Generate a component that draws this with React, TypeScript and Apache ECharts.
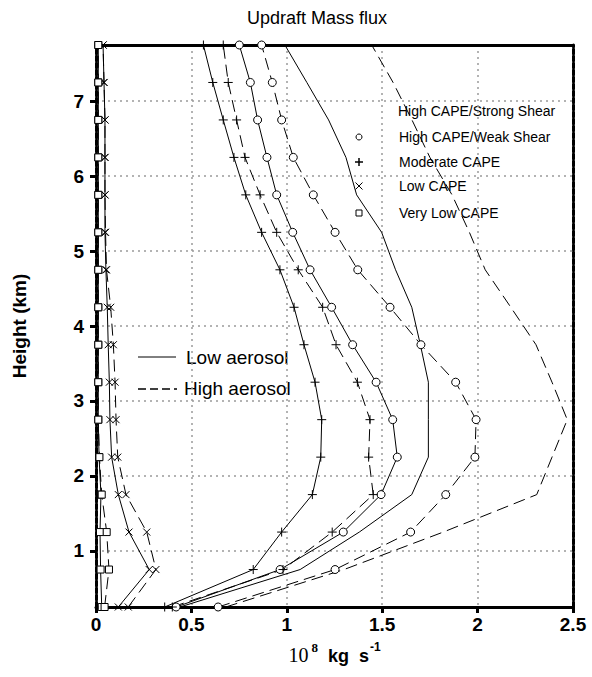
import React, { useEffect, useRef } from "react";
import * as echarts from "echarts";

// Heights (km) of the model levels, bottom to top
const heights = [0.25, 0.75, 1.25, 1.75, 2.25, 2.75, 3.25, 3.75, 4.25, 4.75, 5.25, 5.75, 6.25, 6.75, 7.25, 7.75];
const yTickValues = [1, 2, 3, 4, 5, 6, 7];

// Updraft mass flux (10^8 kg s^-1), values at each height above
// High CAPE / Strong Shear
const hcssLow = [0.44, 1.07, 1.38, 1.655, 1.742, 1.742, 1.742, 1.70, 1.655, 1.57, 1.497, 1.366, 1.31, 1.219, 1.105, 0.99];
const hcssHigh = [0.68, 1.30, 1.82, 2.31, 2.39, 2.47, 2.39, 2.306, 2.174, 2.04, 1.957, 1.866, 1.75, 1.656, 1.557, 1.445];
// High CAPE / Weak Shear
const hcwsLow = [0.42, 0.965, 1.296, 1.494, 1.579, 1.555, 1.468, 1.345, 1.235, 1.122, 1.031, 0.947, 0.896, 0.847, 0.809, 0.751];
const hcwsHigh = [0.64, 1.253, 1.649, 1.833, 1.986, 1.992, 1.885, 1.703, 1.541, 1.372, 1.253, 1.139, 1.034, 0.973, 0.924, 0.868];
// Moderate CAPE
const modLow = [0.36, 0.824, 0.973, 1.134, 1.178, 1.183, 1.148, 1.09, 1.038, 0.964, 0.868, 0.785, 0.723, 0.667, 0.612, 0.563];
const modHigh = [0.40, 0.98, 1.238, 1.453, 1.429, 1.436, 1.37, 1.258, 1.188, 1.06, 0.947, 0.86, 0.781, 0.737, 0.693, 0.667];
// Low CAPE
const lowLow = [0.117, 0.279, 0.173, 0.117, 0.082, 0.073, 0.07, 0.064, 0.059, 0.052, 0.047, 0.047, 0.047, 0.047, 0.042, 0.037];
const lowHigh = [0.169, 0.314, 0.266, 0.157, 0.114, 0.105, 0.10, 0.091, 0.077, 0.055, 0.05, 0.047, 0.047, 0.047, 0.042, 0.037];
// Very Low CAPE
const vlowLow = [0.03, 0.024, 0.021, 0.026, 0.016, 0.012, 0.012, 0.012, 0.012, 0.012, 0.012, 0.012, 0.012, 0.012, 0.012, 0.012];
const vlowHigh = [0.045, 0.068, 0.056, 0.03, 0.018, 0.012, 0.012, 0.012, 0.012, 0.012, 0.012, 0.012, 0.012, 0.012, 0.012, 0.012];

const regimeNames = ["High CAPE/Strong Shear", "High CAPE/Weak Shear", "Moderate CAPE", "Low CAPE", "Very Low CAPE"];
const aerosolNames = ["Low aerosol", "High aerosol"];

const PLUS = "path://M0,5L10,5M5,0L5,10";
const CROSS = "path://M0,0L10,10M10,0L0,10";

const SANS = '"Liberation Sans", Arial, sans-serif';
const SERIF = '"Liberation Serif", "Times New Roman", serif';

const regimes = [
  { name: regimeNames[0], low: hcssLow, high: hcssHigh, symbol: "none", size: 0 },
  { name: regimeNames[1], low: hcwsLow, high: hcwsHigh, symbol: "circle", size: 8 },
  { name: regimeNames[2], low: modLow, high: modHigh, symbol: PLUS, size: 9 },
  { name: regimeNames[3], low: lowLow, high: lowHigh, symbol: CROSS, size: 7 },
  { name: regimeNames[4], low: vlowLow, high: vlowHigh, symbol: "rect", size: 7 },
];

export default function App() {
  const ref = useRef<HTMLDivElement>(null);

  useEffect(() => {
    if (!ref.current) return;
    const chart = echarts.init(ref.current, null, { renderer: "svg" });

    const series: any[] = [];
    regimes.forEach((r) => {
      [r.low, r.high].forEach((vals, k) => {
        series.push({
          type: "line",
          name: `${r.name} - ${aerosolNames[k]}`,
          data: heights.map((h, i) => [vals[i], h]),
          symbol: r.symbol,
          symbolSize: r.size,
          showSymbol: r.symbol !== "none",
          clip: false,
          lineStyle: { color: "#000", width: 1, type: k === 0 ? "solid" : [12, 6] },
          itemStyle: { color: "#fff", borderColor: "#000", borderWidth: 1 },
          emphasis: { disabled: true },
          z: 3,
        });
      });
    });

    const legendX = 359;
    const legendTextX = 399;
    const legendYs = [111, 137, 162, 186, 213];

    const graphic: any[] = [
      // aerosol line-style legend
      { type: "line", shape: { x1: 138, y1: 357, x2: 176, y2: 357 }, style: { stroke: "#000", lineWidth: 1 } },
      { type: "text", x: 186, y: 357, style: { text: aerosolNames[0], fontSize: 19, fontFamily: SANS, fill: "#000", verticalAlign: "middle", align: "left" } },
      { type: "line", shape: { x1: 138, y1: 389, x2: 177, y2: 389 }, style: { stroke: "#000", lineWidth: 1.5, lineDash: [8, 4] } },
      { type: "text", x: 184, y: 388, style: { text: aerosolNames[1], fontSize: 19, fontFamily: SANS, fill: "#000", verticalAlign: "middle", align: "left" } },
      // regime marker legend
      { type: "circle", shape: { cx: legendX, cy: legendYs[1], r: 3 }, style: { fill: "#fff", stroke: "#000", lineWidth: 1 } },
      { type: "line", shape: { x1: legendX - 4, y1: legendYs[2], x2: legendX + 4, y2: legendYs[2] }, style: { stroke: "#000", lineWidth: 1.5 } },
      { type: "line", shape: { x1: legendX, y1: legendYs[2] - 4, x2: legendX, y2: legendYs[2] + 4 }, style: { stroke: "#000", lineWidth: 1.5 } },
      { type: "line", shape: { x1: legendX - 3.5, y1: legendYs[3] - 3.5, x2: legendX + 3.5, y2: legendYs[3] + 3.5 }, style: { stroke: "#000", lineWidth: 1 } },
      { type: "line", shape: { x1: legendX + 3.5, y1: legendYs[3] - 3.5, x2: legendX - 3.5, y2: legendYs[3] + 3.5 }, style: { stroke: "#000", lineWidth: 1 } },
      { type: "rect", shape: { x: legendX - 3, y: legendYs[4] - 3, width: 6, height: 6 }, style: { fill: "#fff", stroke: "#000", lineWidth: 1 } },
    ];
    regimeNames.forEach((n, i) => {
      graphic.push({
        type: "text",
        x: i === 0 ? legendTextX - 1 : legendTextX,
        y: legendYs[i],
        style: { text: n, fontSize: 14, fontFamily: SANS, fill: "#000", verticalAlign: "middle", align: "left" },
      });
    });

    const gridLine = { show: true, lineStyle: { color: "#9a9a9a", width: 1.5, type: [2, 4] } };

    chart.setOption({
      animation: false,
      backgroundColor: "#fff",
      title: {
        text: "Updraft Mass flux",
        left: 242,
        top: 4,
        textStyle: { fontSize: 18, fontWeight: "normal", fontFamily: SANS, color: "#000" },
      },
      grid: { left: 96, right: 19, top: 45, bottom: 70, containLabel: false },
      xAxis: [
        {
          type: "value",
          min: 0,
          max: 2.5,
          interval: 0.5,
          position: "bottom",
          axisLine: { show: true, onZero: false, lineStyle: { color: "#000", width: 3 } },
          axisTick: { show: true, inside: false, length: 6, lineStyle: { color: "#000", width: 3 } },
          axisLabel: { fontSize: 19, fontWeight: "bold", fontFamily: SANS, color: "#000", margin: 8 },
          splitLine: gridLine,
          name: "{a|10}{sup|8}{b| kg  s}{sup2|-1}",
          nameLocation: "middle",
          nameGap: 34,
          nameTextStyle: {
            rich: {
              a: { fontSize: 20, fontFamily: SERIF, color: "#000", verticalAlign: "bottom", lineHeight: 24 },
              sup: { fontSize: 13, fontFamily: SERIF, fontWeight: "bold", color: "#000", verticalAlign: "top", padding: [0, 5, 8, 3], lineHeight: 24 },
              b: { fontSize: 18, fontFamily: SANS, fontWeight: "bold", color: "#000", verticalAlign: "bottom", lineHeight: 24 },
              sup2: { fontSize: 12, fontFamily: SANS, fontWeight: "bold", color: "#000", verticalAlign: "top", padding: [0, 0, 8, 1], lineHeight: 24 },
            },
          },
        },
        {
          type: "value",
          min: 0,
          max: 2.5,
          position: "top",
          axisLine: { show: true, onZero: false, lineStyle: { color: "#000", width: 3 } },
          axisTick: { show: false },
          axisLabel: { show: false },
          splitLine: { show: false },
        },
      ],
      yAxis: [
        {
          type: "value",
          min: 0.25,
          max: 7.75,
          splitNumber: 7,
          position: "left",
          axisLine: { show: true, onZero: false, lineStyle: { color: "#000", width: 3, type: [5, 2] } },
          axisTick: { show: true, inside: false, length: 6, customValues: yTickValues, lineStyle: { color: "#000", width: 3 } },
          axisLabel: {
            customValues: yTickValues,
            fontSize: 19,
            fontWeight: "bold",
            fontFamily: SANS,
            color: "#000",
            margin: 12,
            formatter: (v: number) => (Number.isInteger(v) ? String(v) : ""),
          },
          splitLine: gridLine,
          name: "Height (km)",
          nameLocation: "middle",
          nameGap: 67,
          nameRotate: 90,
          nameTextStyle: { fontSize: 19, fontWeight: "bold", fontFamily: SANS, color: "#000" },
        },
        {
          type: "value",
          min: 0.25,
          max: 7.75,
          position: "right",
          axisLine: { show: true, onZero: false, lineStyle: { color: "#000", width: 3, type: [5, 2] } },
          axisTick: { show: false },
          axisLabel: { show: false },
          splitLine: { show: false },
        },
      ],
      series,
      graphic,
    });

    return () => chart.dispose();
  }, []);

  return (
    <div
      ref={ref}
      style={{ position: "fixed", left: 0, top: 0, width: 592, height: 677, background: "#fff" }}
    />
  );
}
